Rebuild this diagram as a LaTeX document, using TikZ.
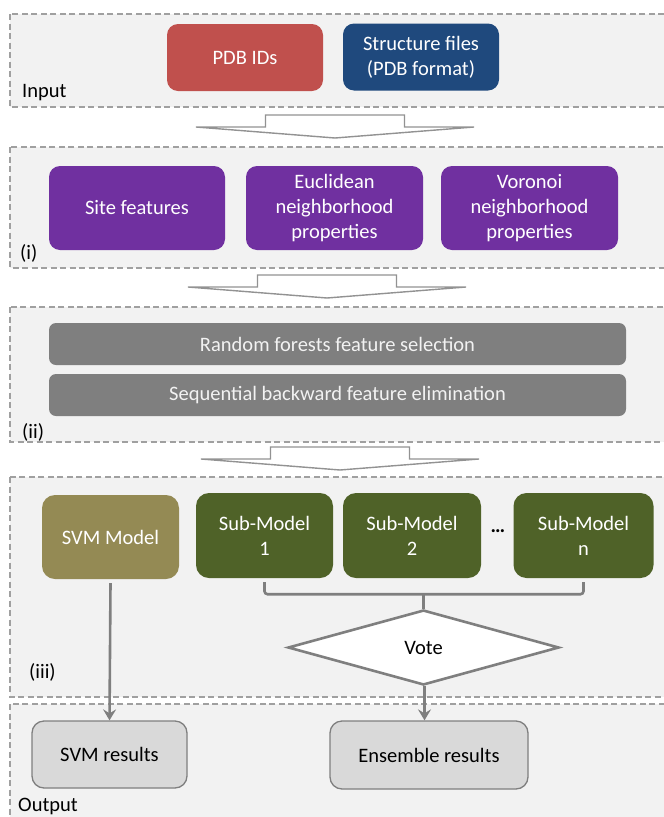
\documentclass[tikz,border=0pt]{standalone}
\usepackage{fontspec}
\setmainfont{Carlito}
\usetikzlibrary{shapes.geometric,arrows.meta}
\definecolor{panelbg}{HTML}{F2F2F2}
\definecolor{dashgray}{HTML}{A0A0A0}
\definecolor{linegray}{HTML}{7F7F7F}
\definecolor{pdbred}{HTML}{C0504D}
\definecolor{pdbblue}{HTML}{1F497D}
\definecolor{featpurple}{HTML}{7030A0}
\definecolor{selgray}{HTML}{7F7F7F}
\definecolor{svmolive}{HTML}{948A54}
\definecolor{subgreen}{HTML}{4F6228}
\definecolor{resgray}{HTML}{D9D9D9}
\tikzset{
  txt/.style={font=\fontsize{20.5}{25}\selectfont},
  panel/.style={fill=panelbg, draw=dashgray, line width=1.3pt, dash pattern=on 6pt off 3.5pt},
  colbox/.style={txt, rounded corners=11pt, inner sep=0pt, text=white, align=center},
  resbox/.style={txt, rounded corners=12pt, inner sep=0pt, fill=resgray, draw=linegray, line width=1.3pt, align=center},
  lbl/.style={txt, inner sep=0pt, anchor=base west},
  conn/.style={draw=linegray, line width=2.6pt},
  arrowstroke/.style={draw=linegray!85, fill=white, line width=1.4pt, line join=miter},
  blockarrow/.pic={\path[arrowstroke] (-69.5,-23) -- (69.5,-23) -- (69.5,-11) -- (139,-11) -- (0,0) -- (-139,-11) -- (-69.5,-11) -- cycle;}
}
\begin{document}
\begin{tikzpicture}[x=1pt,y=-1pt]
\clip (0,0) rectangle (664,817);
\fill[white] (0,0) rectangle (664,817);
% panels
\path[panel] (10,14) rectangle (700,107);
\path[panel] (10,147) rectangle (700,268);
\path[panel] (10,307) rectangle (700,442);
\path[panel] (10,477) rectangle (700,697);
\path[panel] (10,704) rectangle (700,840);
% block arrows
\pic at (335,138) {blockarrow};
\pic at (327,298) {blockarrow};
\pic at (340,470) {blockarrow};
% labels
\node[lbl] (linput) at (22,97) {Input};
\node[lbl] (li) at (20,259) {(i)};
\node[lbl] (lii) at (22,438) {(ii)};
\node[lbl] (liii) at (29,678) {(iii)};
\node[lbl] (lout) at (18,811) {Output};
% input
\node[colbox, fill=pdbred, minimum width=156pt, minimum height=67pt] (pdb) at (245,57.5) {PDB IDs};
\node[colbox, fill=pdbblue, minimum width=156pt, minimum height=67pt] (struct) at (421,57) {Structure files\\(PDB format)};
% (i)
\node[colbox, fill=featpurple, minimum width=176pt, minimum height=84pt] (site) at (137,208) {Site features};
\node[colbox, fill=featpurple, minimum width=177pt, minimum height=84pt] (eucl) at (334.5,208) {Euclidean\\neighborhood\\properties};
\node[colbox, fill=featpurple, minimum width=177pt, minimum height=84pt] (vor) at (529.5,208) {Voronoi\\neighborhood\\properties};
% (ii)
\node[colbox, fill=selgray, text=panelbg, rounded corners=7pt, minimum width=577pt, minimum height=42pt] (rf) at (337.5,344) {Random forests feature selection};
\node[colbox, fill=selgray, text=panelbg, rounded corners=7pt, minimum width=577pt, minimum height=42pt] (sbe) at (337.5,395) {Sequential backward feature elimination};
% (iii)
\node[colbox, fill=svmolive, rounded corners=13pt, minimum width=137pt, minimum height=84pt] (svm) at (110.5,537) {SVM Model};
\node[colbox, fill=subgreen, rounded corners=13pt, minimum width=137pt, minimum height=85pt] (sm1) at (264.5,535.5) {Sub-Model\\1};
\node[colbox, fill=subgreen, rounded corners=13pt, minimum width=138pt, minimum height=85pt] (sm2) at (412,535.5) {Sub-Model\\2};
\node[txt, inner sep=0pt, font=\fontsize{20.5}{25}\selectfont\bfseries] (dots) at (498,531) {…};
\node[colbox, fill=subgreen, rounded corners=13pt, minimum width=140pt, minimum height=85pt] (smn) at (583.5,535.5) {Sub-Model\\n};
\node[txt, diamond, fill=white, draw=linegray, line width=2.6pt, inner sep=0pt, minimum width=271pt, minimum height=75pt] (vote) at (423.5,647.5) {Vote};
% output
\node[resbox, minimum width=155pt, minimum height=67pt] (svmres) at (109.5,754.5) {SVM results};
\node[resbox, minimum width=198pt, minimum height=68pt] (ens) at (429,755) {Ensemble results};
% connectors
\coordinate (bl) at ([yshift=-16pt]sm1.south);
\coordinate (br) at ([yshift=-16pt]smn.south);
\draw[conn, rounded corners=3pt] ([yshift=-4pt]sm1.south) -- (bl) -- (br) -- ([yshift=-4pt]smn.south);
\draw[conn] (vote.north |- bl) -- (vote.north);
\draw[conn, -{Stealth[length=11pt,width=13pt,inset=4pt]}] ([yshift=-4pt]svm.south) -- (svmres.north);
\draw[conn, -{Stealth[length=11pt,width=13pt,inset=4pt]}] ([xshift=1pt]vote.south) -- ([xshift=1pt]vote.south |- ens.north);
\end{tikzpicture}
\end{document}
